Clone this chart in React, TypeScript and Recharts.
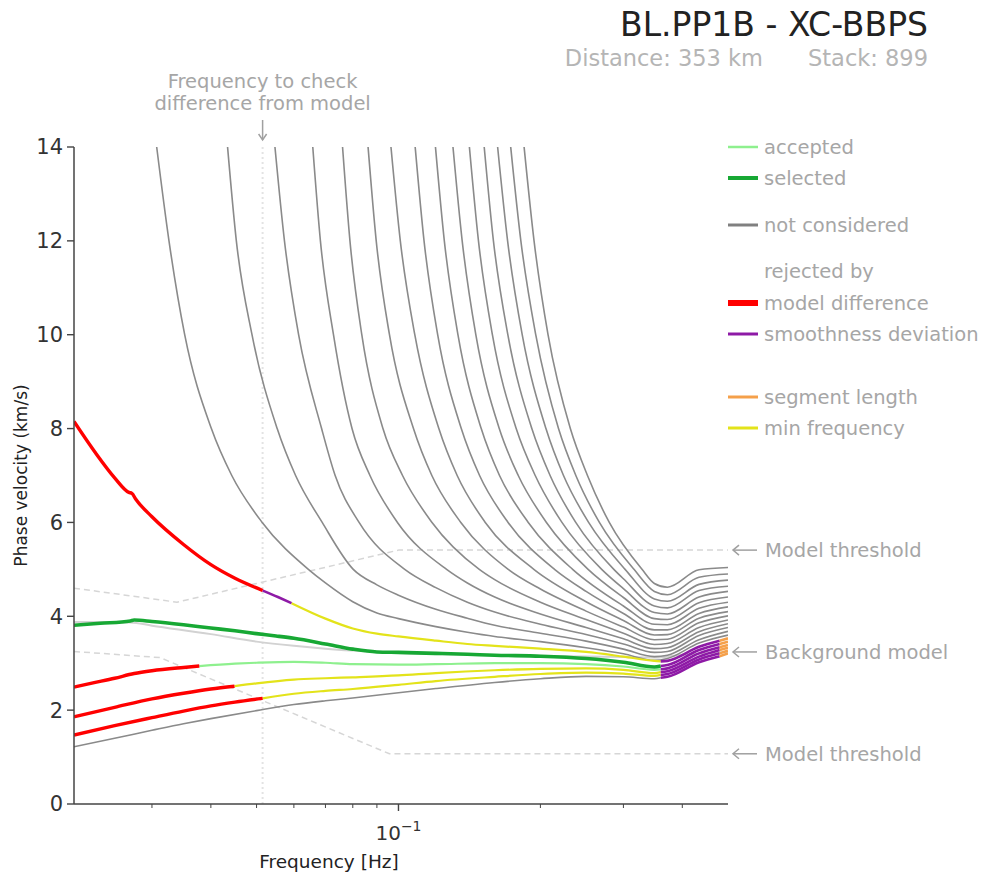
import React from "react";
import { LineChart, Line, XAxis, YAxis, ReferenceLine, ReferenceDot } from "recharts";

type Pt = [number, number];

const FONT = "DejaVu Sans, Verdana, sans-serif";

// axes
const FREQ_DOMAIN: [number, number] = [0.0205, 0.5];
const FREQ_TICKS = [0.03, 0.04, 0.05, 0.06, 0.07, 0.08, 0.09, 0.1, 0.2, 0.3, 0.4];
const VEL_TICKS = [0, 2, 4, 6, 8, 10, 12, 14];
const CHECK_FREQ = 0.0515;
const UPPER_THRESHOLD_END = 5.41;
const BACKGROUND_END = 3.24;
const LOWER_THRESHOLD_END = 1.07;

// background model and the two threshold curves
const backgroundModel: Pt[] = [
  [0.0205, 3.88], [0.027, 3.87], [0.03, 3.8], [0.04, 3.62], [0.05, 3.46], [0.06, 3.37],
  [0.07, 3.31], [0.08, 3.27], [0.1, 3.22], [0.15, 3.18], [0.2, 3.16], [0.3, 3.13],
  [0.35, 3.12], [0.4, 3.18], [0.5, 3.24],
];
const upperThreshold: Pt[] = [[0.0205, 4.6], [0.0339, 4.3], [0.1, 5.41], [0.5, 5.41]];
const lowerThreshold: Pt[] = [[0.0205, 3.25], [0.0312, 3.12], [0.0957, 1.07], [0.5, 1.07]];

// not considered: higher 2-pi branches
const nc2: Pt[] = [[0.0307, 14], [0.0326, 12], [0.0352, 10], [0.0401, 8], [0.0443, 7], [0.0514, 6], [0.0644, 5], [0.07, 4.71], [0.08, 4.31], [0.09, 4.07], [0.1, 3.95], [0.12, 3.78], [0.14, 3.66], [0.16, 3.57], [0.2, 3.46], [0.25, 3.33], [0.3, 3.2], [0.349, 3.06], [0.372, 3.1], [0.434, 3.43], [0.5, 3.6]];
const nc3: Pt[] = [[0.0434, 14], [0.0453, 12], [0.0489, 10], [0.0553, 8], [0.0605, 7], [0.0689, 6], [0.0802, 5], [0.09, 4.67], [0.1, 4.45], [0.12, 4.15], [0.14, 3.96], [0.16, 3.81], [0.2, 3.64], [0.25, 3.47], [0.3, 3.3], [0.349, 3.14], [0.372, 3.17], [0.434, 3.5], [0.5, 3.68]];
const nc4: Pt[] = [[0.0547, 14], [0.0573, 12], [0.0614, 10], [0.0687, 8], [0.0734, 7], [0.0825, 6], [0.1031, 5], [0.12, 4.61], [0.14, 4.3], [0.16, 4.09], [0.2, 3.83], [0.25, 3.61], [0.3, 3.41], [0.349, 3.23], [0.372, 3.25], [0.434, 3.59], [0.5, 3.76]];
const nc5: Pt[] = [[0.0658, 14], [0.0683, 12], [0.0728, 10], [0.0797, 8], [0.087, 7], [0.0995, 6], [0.1265, 5], [0.14, 4.71], [0.16, 4.41], [0.2, 4.05], [0.25, 3.76], [0.3, 3.52], [0.349, 3.31], [0.372, 3.33], [0.434, 3.67], [0.5, 3.84]];
const nc6: Pt[] = [[0.0761, 14], [0.0789, 12], [0.0836, 10], [0.0927, 8], [0.102, 7], [0.1178, 6], [0.1484, 5], [0.16, 4.78], [0.2, 4.3], [0.25, 3.93], [0.3, 3.64], [0.349, 3.4], [0.372, 3.42], [0.434, 3.76], [0.5, 3.92]];
const nc7: Pt[] = [[0.0862, 14], [0.0897, 12], [0.0957, 10], [0.1076, 8], [0.1177, 7], [0.1356, 6], [0.1709, 5], [0.2, 4.58], [0.25, 4.11], [0.3, 3.77], [0.349, 3.5], [0.372, 3.51], [0.434, 3.86], [0.5, 4.01]];
const nc8: Pt[] = [[0.0964, 14], [0.1009, 12], [0.1083, 10], [0.1218, 8], [0.1332, 7], [0.1528, 6], [0.1937, 5], [0.25, 4.31], [0.3, 3.91], [0.349, 3.6], [0.372, 3.61], [0.434, 3.96], [0.5, 4.1]];
const nc9: Pt[] = [[0.1085, 14], [0.1133, 12], [0.1211, 10], [0.1359, 8], [0.1486, 7], [0.1708, 6], [0.2143, 5], [0.25, 4.53], [0.3, 4.06], [0.349, 3.71], [0.372, 3.71], [0.434, 4.06], [0.5, 4.2]];
const nc10: Pt[] = [[0.1198, 14], [0.1251, 12], [0.1337, 10], [0.1498, 8], [0.1638, 7], [0.1885, 6], [0.2341, 5], [0.3, 4.22], [0.349, 3.83], [0.372, 3.82], [0.434, 4.17], [0.5, 4.3]];
const nc11: Pt[] = [[0.1305, 14], [0.1365, 12], [0.1459, 10], [0.1636, 8], [0.1795, 7], [0.206, 6], [0.2525, 5], [0.3, 4.4], [0.349, 3.95], [0.372, 3.93], [0.434, 4.29], [0.5, 4.41]];
const nc12: Pt[] = [[0.1414, 14], [0.1478, 12], [0.1582, 10], [0.1777, 8], [0.195, 7], [0.2222, 6], [0.2698, 5], [0.3, 4.59], [0.349, 4.08], [0.372, 4.05], [0.434, 4.41], [0.5, 4.53]];
const nc13: Pt[] = [[0.152, 14], [0.159, 12], [0.1706, 10], [0.1918, 8], [0.2097, 7], [0.2377, 6], [0.2863, 5], [0.3, 4.8], [0.349, 4.22], [0.372, 4.18], [0.434, 4.55], [0.5, 4.64]];
const nc14: Pt[] = [[0.1623, 14], [0.1704, 12], [0.183, 10], [0.2055, 8], [0.2239, 7], [0.2531, 6], [0.3025, 5], [0.349, 4.37], [0.372, 4.32], [0.434, 4.68], [0.5, 4.77]];
const nc15: Pt[] = [[0.173, 14], [0.1818, 12], [0.1955, 10], [0.2185, 8], [0.2378, 7], [0.2668, 6], [0.3159, 5], [0.349, 4.53], [0.372, 4.46], [0.434, 4.83], [0.5, 4.9]];
const nc16: Pt[] = [[0.1847, 14], [0.1939, 12], [0.2076, 10], [0.2315, 8], [0.2517, 7], [0.28, 6], [0.3285, 5], [0.349, 4.7], [0.372, 4.62], [0.434, 4.99], [0.5, 5.04]];
const notConsidered = [nc2, nc3, nc4, nc5, nc6, nc7, nc8, nc9, nc10, nc11, nc12, nc13, nc14, nc15, nc16];

// lowest branch, not considered
const ncLow: Pt[] = [[0.0205, 1.22], [0.025, 1.4], [0.03, 1.57], [0.035, 1.71], [0.04, 1.82], [0.05, 1.99], [0.06, 2.12], [0.07, 2.2], [0.08, 2.26], [0.1, 2.37], [0.12, 2.46], [0.16, 2.59], [0.2, 2.67], [0.25, 2.72], [0.3, 2.71], [0.349, 2.67], [0.36, 2.69]];

// first branch above the selection
const upperModelDiff: Pt[] = [[0.0205, 8.15], [0.0227, 7.5], [0.025, 6.95], [0.0268, 6.64], [0.0272, 6.62], [0.0277, 6.5], [0.03, 6.12], [0.035, 5.53], [0.04, 5.1], [0.045, 4.81], [0.0515, 4.55]];
const upperSmooth: Pt[] = [[0.0515, 4.55], [0.0555, 4.41], [0.0593, 4.28]];
const upperMinFreq: Pt[] = [[0.0593, 4.28], [0.07, 3.95], [0.08, 3.74], [0.09, 3.63], [0.1, 3.57], [0.12, 3.48], [0.14, 3.41], [0.16, 3.37], [0.2, 3.31], [0.25, 3.24], [0.3, 3.14], [0.349, 3.05], [0.36, 3.04]];

// selected branch
const selected: Pt[] = [[0.0205, 3.81], [0.0233, 3.85], [0.027, 3.9], [0.0275, 3.92], [0.03, 3.89], [0.035, 3.82], [0.04, 3.75], [0.045, 3.69], [0.05, 3.63], [0.055, 3.58], [0.06, 3.53], [0.07, 3.41], [0.08, 3.3], [0.09, 3.24], [0.1, 3.23], [0.12, 3.21], [0.14, 3.19], [0.16, 3.17], [0.2, 3.15], [0.25, 3.1], [0.3, 3.02], [0.349, 2.92], [0.36, 2.94]];

// branches below the selection
const belowModelDiff1: Pt[] = [[0.0205, 2.49], [0.0225, 2.58], [0.025, 2.68], [0.0275, 2.78], [0.03, 2.84], [0.035, 2.91], [0.0378, 2.94]];
const accepted: Pt[] = [[0.0378, 2.94], [0.045, 2.99], [0.05, 3.01], [0.06, 3.03], [0.07, 3.01], [0.08, 2.98], [0.1, 2.97], [0.12, 2.98], [0.16, 3.0], [0.2, 3.0], [0.25, 2.98], [0.3, 2.93], [0.349, 2.86], [0.36, 2.87]];
const belowModelDiff2: Pt[] = [[0.0205, 1.86], [0.025, 2.06], [0.03, 2.24], [0.035, 2.36], [0.04, 2.45], [0.0449, 2.51]];
const belowMinFreq2: Pt[] = [[0.0449, 2.51], [0.05, 2.57], [0.06, 2.65], [0.07, 2.68], [0.08, 2.7], [0.1, 2.74], [0.12, 2.79], [0.16, 2.85], [0.2, 2.88], [0.25, 2.89], [0.3, 2.86], [0.349, 2.79], [0.36, 2.81]];
const belowModelDiff3: Pt[] = [[0.0205, 1.47], [0.025, 1.67], [0.03, 1.84], [0.035, 1.98], [0.04, 2.09], [0.045, 2.17], [0.0515, 2.25]];
const belowMinFreq3: Pt[] = [[0.0515, 2.25], [0.06, 2.35], [0.07, 2.41], [0.08, 2.45], [0.1, 2.54], [0.12, 2.62], [0.16, 2.71], [0.2, 2.77], [0.25, 2.8], [0.3, 2.78], [0.349, 2.73], [0.36, 2.75]];

// high-frequency tails: smoothness deviation, then segment length
const tailSmooth: Pt[][] = [
  [[0.36, 3.04], [0.372, 3.05], [0.434, 3.35], [0.48, 3.48]],
  [[0.36, 2.94], [0.372, 2.96], [0.434, 3.28], [0.48, 3.41]],
  [[0.36, 2.87], [0.372, 2.89], [0.434, 3.21], [0.48, 3.34]],
  [[0.36, 2.81], [0.372, 2.83], [0.434, 3.14], [0.48, 3.28]],
  [[0.36, 2.75], [0.372, 2.77], [0.434, 3.08], [0.48, 3.21]],
  [[0.36, 2.69], [0.372, 2.71], [0.434, 3.02], [0.48, 3.15]],
];
const tailSegment: Pt[][] = [
  [[0.48, 3.48], [0.5, 3.53]],
  [[0.48, 3.41], [0.5, 3.46]],
  [[0.48, 3.34], [0.5, 3.39]],
  [[0.48, 3.28], [0.5, 3.33]],
  [[0.48, 3.21], [0.5, 3.27]],
  [[0.48, 3.15], [0.5, 3.21]],
];

const C = {
  gray: "#8a8a8a",
  accepted: "#8ef08e",
  selected: "#17a834",
  red: "#ff0000",
  purple: "#8e1aa6",
  orange: "#f5a04a",
  yellow: "#e3e31a",
  faint: "#d6d6d6",
  note: "#a6a6a6",
  axis: "#444",
};

const LEGEND = [
  { label: "accepted", y: 147, color: C.accepted, w: 2.5 },
  { label: "selected", y: 178, color: C.selected, w: 4 },
  { label: "not considered", y: 225, color: "#808080", w: 3 },
  { label: "rejected by", y: 271, color: null, w: 0 },
  { label: "model difference", y: 303, color: C.red, w: 6 },
  { label: "smoothness deviation", y: 334, color: C.purple, w: 3 },
  { label: "segment length", y: 397, color: C.orange, w: 3 },
  { label: "min frequency", y: 428, color: C.yellow, w: 3 },
];

const rows = (pts: Pt[]) => pts.map(([f, v]) => ({ f, v }));

const curve = (key: string, pts: Pt[], color: string, width: number, dash?: string, type: "monotone" | "linear" = "monotone") => (
  <Line
    key={key}
    data={rows(pts)}
    dataKey="v"
    type={type}
    stroke={color}
    strokeWidth={width}
    strokeDasharray={dash}
    strokeLinejoin="round"
    dot={false}
    activeDot={false}
    legendType="none"
    isAnimationActive={false}
  />
);

const FreqTick = (props: any) => {
  const { x, y, payload } = props;
  const major = payload.value === 0.1;
  return (
    <g>
      <line x1={x} x2={x} y1={y} y2={y + (major ? 7 : 4)} stroke={C.axis} strokeWidth={major ? 1.4 : 1} />
      {major && (
        <text x={x} y={y + 36} textAnchor="middle" fontSize={20} fill="#333" fontFamily={FONT}>
          10<tspan dy={-9} fontSize={14}>−1</tspan>
        </text>
      )}
    </g>
  );
};

const arrowNote = (text: string) => (p: any) => {
  const { cx, cy } = p;
  return (
    <g>
      <line x1={cx + 29} y1={cy} x2={cx + 5} y2={cy} stroke="#a0a0a0" strokeWidth={1.5} />
      <polyline points={`${cx + 11},${cy - 5} ${cx + 5},${cy} ${cx + 11},${cy + 5}`} fill="none" stroke="#a0a0a0" strokeWidth={1.5} />
      <text x={cx + 37} y={cy + 7} fontSize={19.5} fill={C.note} fontFamily={FONT}>{text}</text>
    </g>
  );
};

const CheckLabel = (p: any) => {
  const { x, y } = p.viewBox;
  return (
    <g fontFamily={FONT} fontSize={19.5} fill={C.note} textAnchor="middle">
      <text x={x} y={y - 59}>Frequency to check</text>
      <text x={x} y={y - 37}>difference from model</text>
      <line x1={x} y1={y - 27} x2={x} y2={y - 7} stroke="#a0a0a0" strokeWidth={1.5} />
      <polyline points={`${x - 4},${y - 13} ${x},${y - 7} ${x + 4},${y - 13}`} fill="none" stroke="#a0a0a0" strokeWidth={1.5} />
    </g>
  );
};

export default function App() {
  return (
    <div style={{ position: "absolute", left: 0, top: 0, width: 983, height: 878, background: "#fff" }}>
      <LineChart width={983} height={878} margin={{ top: 147, right: 255, bottom: 0, left: 0 }}>
        <XAxis
          dataKey="f"
          type="number"
          scale="log"
          domain={FREQ_DOMAIN}
          allowDataOverflow
          ticks={FREQ_TICKS}
          tick={<FreqTick />}
          tickLine={false}
          tickSize={0}
          tickMargin={0}
          interval={0}
          height={74}
          axisLine={{ stroke: C.axis, strokeWidth: 1.5 }}
          label={{
            content: (p: any) => (
              <text x={p.viewBox.x + 255} y={p.viewBox.y + 64} textAnchor="middle" fontSize={18.5} fill="#222" fontFamily={FONT}>
                Frequency [Hz]
              </text>
            ),
          }}
        />
        <YAxis
          type="number"
          domain={[0, 14]}
          allowDataOverflow
          ticks={VEL_TICKS}
          interval={0}
          width={74}
          tickSize={7}
          tickMargin={4}
          tick={{ fontSize: 21, fill: "#333", fontFamily: FONT }}
          tickLine={{ stroke: C.axis, strokeWidth: 1.4 }}
          axisLine={{ stroke: C.axis, strokeWidth: 1.5 }}
          label={{
            content: (p: any) => (
              <text
                transform={`translate(27, ${p.viewBox.y + p.viewBox.height / 2}) rotate(-90)`}
                textAnchor="middle"
                fontSize={17}
                fill="#222"
                fontFamily={FONT}
              >
                Phase velocity (km/s)
              </text>
            ),
          }}
        />

        <ReferenceLine
          x={CHECK_FREQ}
          stroke="#e3e3e3"
          strokeWidth={2}
          strokeDasharray="2 3"
          label={{ content: (p: any) => <CheckLabel {...p} /> }}
        />

        {curve("thr-up", upperThreshold, C.faint, 1.5, "6 4", "linear")}
        {curve("thr-low", lowerThreshold, C.faint, 1.5, "6 4", "linear")}
        {curve("background", backgroundModel, "#d2d2d2", 2)}

        {notConsidered.map((pts, i) => curve(`nc-${i}`, pts, C.gray, 1.6))}
        {curve("nc-low", ncLow, C.gray, 1.6)}

        {curve("up-minfreq", upperMinFreq, C.yellow, 2.2)}
        {curve("b2-minfreq", belowMinFreq2, C.yellow, 2.2)}
        {curve("b3-minfreq", belowMinFreq3, C.yellow, 2.2)}
        {curve("accepted", accepted, C.accepted, 2.2)}
        {curve("selected", selected, C.selected, 3.6)}

        {tailSmooth.map((pts, i) => curve(`tail-s-${i}`, pts, C.purple, 2.6))}
        {tailSegment.map((pts, i) => curve(`tail-g-${i}`, pts, C.orange, 2.6))}

        {curve("up-smooth", upperSmooth, C.purple, 2.6)}
        {curve("up-model", upperModelDiff, C.red, 3.4)}
        {curve("b1-model", belowModelDiff1, C.red, 3.4)}
        {curve("b2-model", belowModelDiff2, C.red, 3.4)}
        {curve("b3-model", belowModelDiff3, C.red, 3.4)}

        <ReferenceDot x={FREQ_DOMAIN[1]} y={UPPER_THRESHOLD_END} ifOverflow="visible" shape={arrowNote("Model threshold")} />
        <ReferenceDot x={FREQ_DOMAIN[1]} y={BACKGROUND_END} ifOverflow="visible" shape={arrowNote("Background model")} />
        <ReferenceDot x={FREQ_DOMAIN[1]} y={LOWER_THRESHOLD_END} ifOverflow="visible" shape={arrowNote("Model threshold")} />
      </LineChart>

      <svg width={983} height={878} style={{ position: "absolute", left: 0, top: 0, pointerEvents: "none" }} fontFamily={FONT}>
        <text x={928} y={36} textAnchor="end" fontSize={33} fill="#222">BL.PP1B - XC-BBPS</text>
        <text x={763} y={66} textAnchor="end" fontSize={22.5} fill="#b5b5b5">Distance: 353 km</text>
        <text x={928} y={66} textAnchor="end" fontSize={22.5} fill="#b5b5b5">Stack: 899</text>
        {LEGEND.map((item) => (
          <g key={item.label}>
            {item.color && <line x1={728} x2={758} y1={item.y} y2={item.y} stroke={item.color} strokeWidth={item.w} />}
            <text x={764} y={item.y + 7} fontSize={19.5} fill={C.note}>{item.label}</text>
          </g>
        ))}
      </svg>
    </div>
  );
}
